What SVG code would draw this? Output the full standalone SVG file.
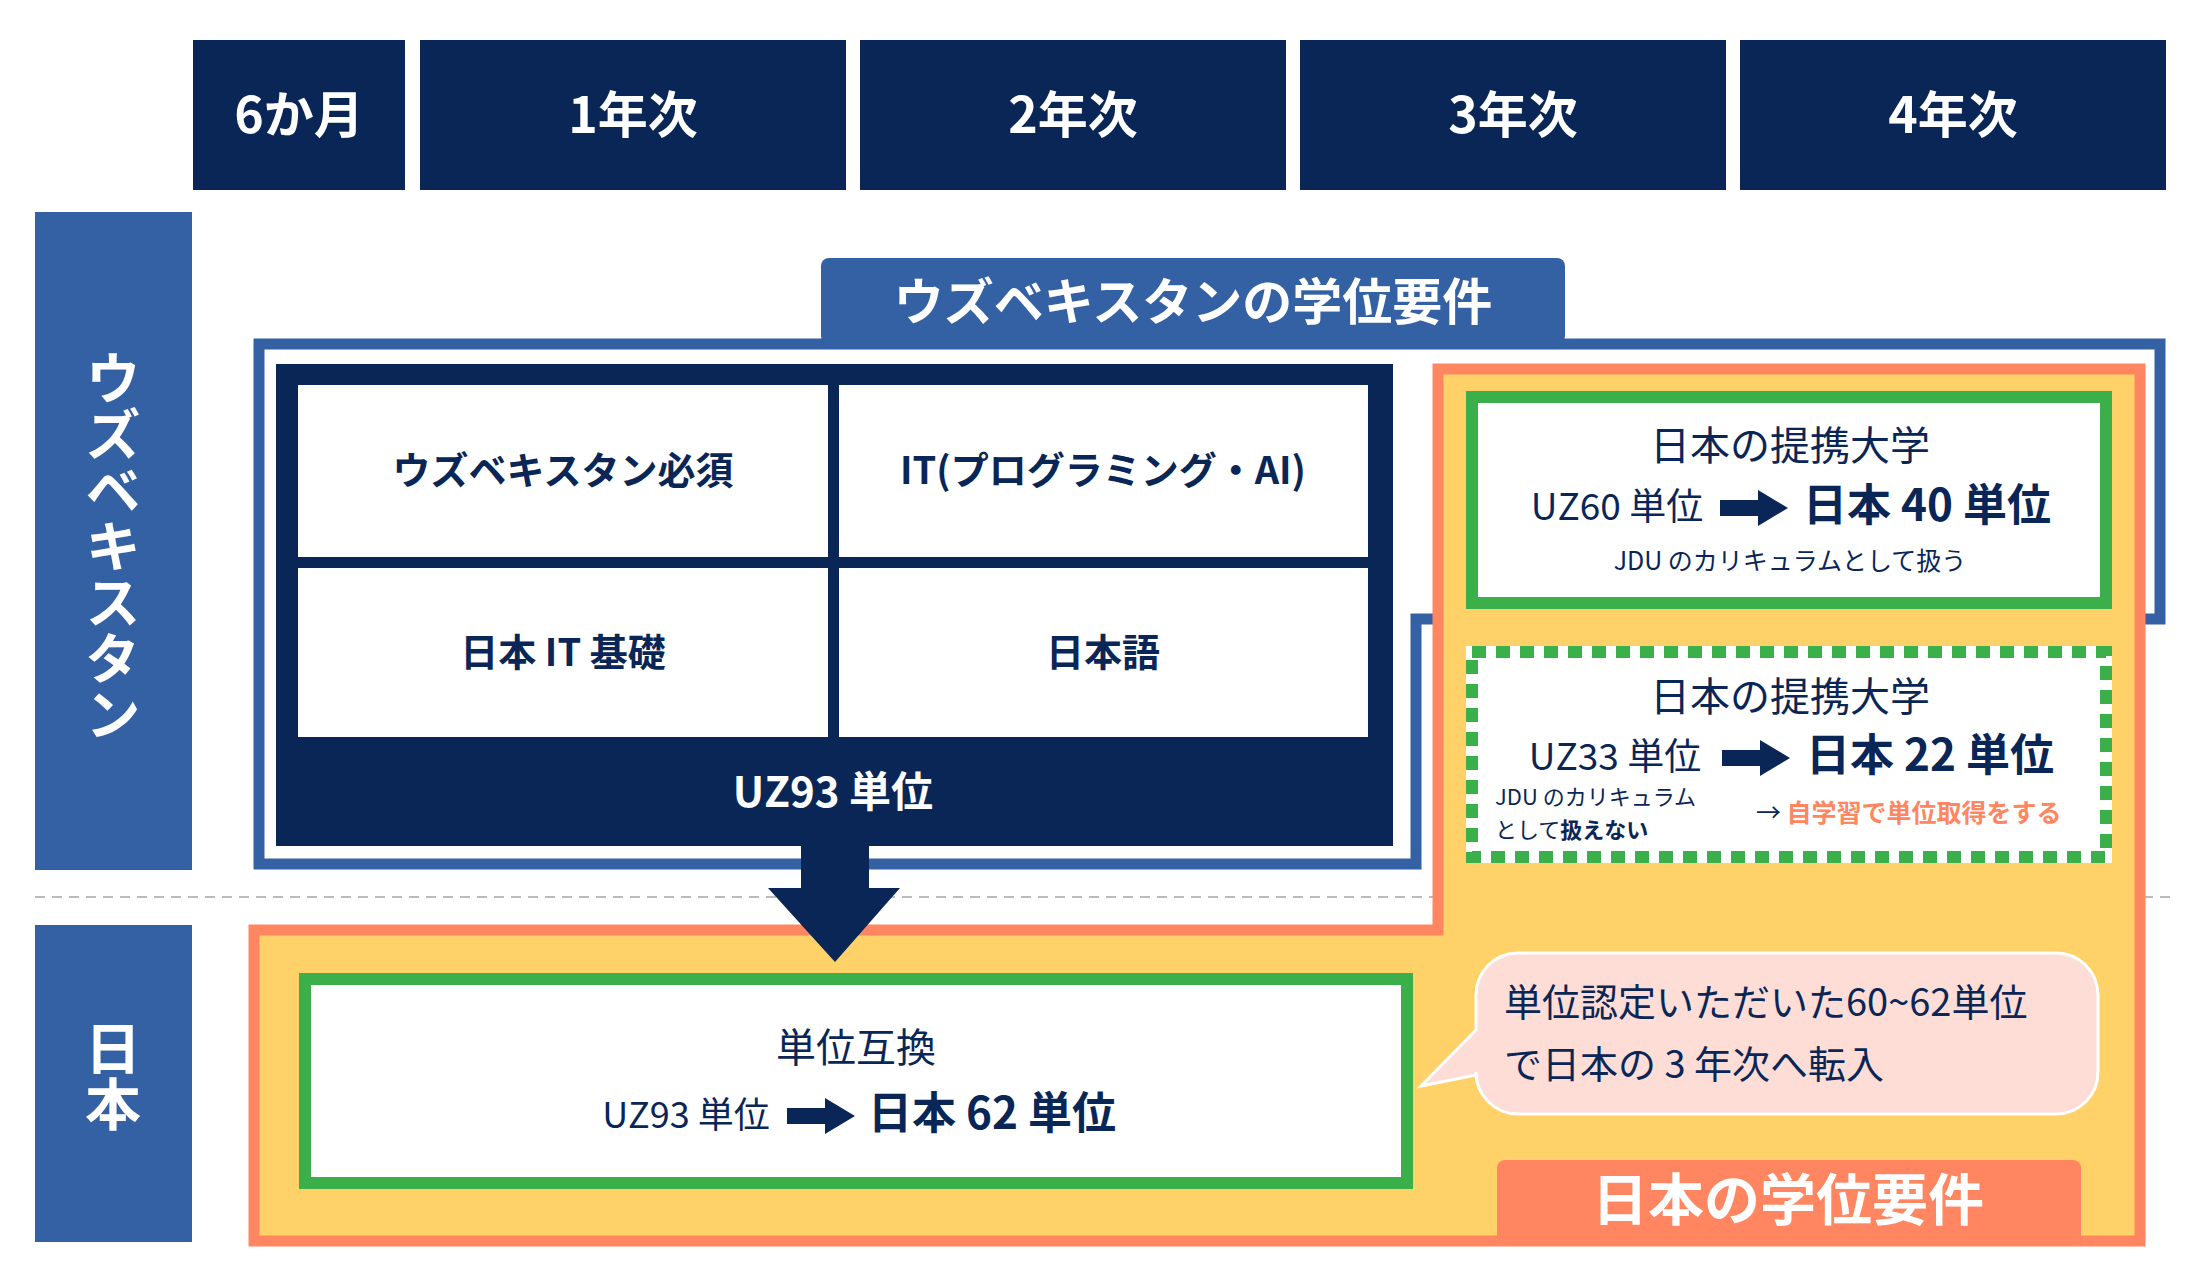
<svg xmlns="http://www.w3.org/2000/svg" width="2199" height="1278" viewBox="0 0 2199 1278">
<style>
text{font-family:"Noto Sans CJK JP","Noto Sans",sans-serif;fill:#0A2656;text-anchor:middle}
.hd{fill:#0A2656}
.hdt{fill:#fff;font-size:50px;font-weight:700}
.side{fill:#3461A3}
.cell{fill:#fff}
.ct{font-size:38px;font-weight:700}
.g{fill:#fff;stroke:#3AAF4A;stroke-width:12}
.t1{font-size:40px}
.r{font-size:37px}
.b{font-size:44px;font-weight:700}
.s{font-size:25px}
.s2{font-size:22px}
</style>
<defs>
<path id="arr" d="M0,-8 H38 V-18 L68,0 L38,18 V8 H0 Z" fill="#0A2656"/>
</defs>
<rect width="2199" height="1278" fill="#fff"/>
<g id="header">
<rect class="hd" x="193" y="40" width="212" height="150"/><text class="hdt" x="299" y="133">6か月</text>
<rect class="hd" x="420" y="40" width="426" height="150"/><text class="hdt" x="633" y="133">1年次</text>
<rect class="hd" x="860" y="40" width="426" height="150"/><text class="hdt" x="1073" y="133">2年次</text>
<rect class="hd" x="1300" y="40" width="426" height="150"/><text class="hdt" x="1513" y="133">3年次</text>
<rect class="hd" x="1740" y="40" width="426" height="150"/><text class="hdt" x="1953" y="133">4年次</text>
</g>
<g id="side-uz"><rect class="side" x="35" y="212" width="157" height="658"/>
<text x="113" y="350" style="fill:#fff;font-size:56px;font-weight:700;writing-mode:vertical-rl;text-anchor:start">ウズベキスタン</text></g>
<g id="side-jp"><rect class="side" x="35" y="925" width="157" height="317"/>
<text x="113" y="1020" style="fill:#fff;font-size:56px;font-weight:700;writing-mode:vertical-rl;text-anchor:start">日本</text></g>
<line x1="35" y1="897" x2="2171" y2="897" stroke="#bbb" stroke-width="2" stroke-dasharray="10,7"/>
<g id="uz-req">
<path d="M259,344 H2160 V619 H1416 V864 H259 Z" fill="none" stroke="#3461A3" stroke-width="11"/>
<rect x="821" y="258" width="744" height="86" rx="8" fill="#3461A3"/>
<text x="1193" y="320" style="fill:#fff;font-size:50px;font-weight:700">ウズベキスタンの学位要件</text>
</g>
<g id="jp-req">
<path d="M254,930 H1438 V369 H2140 V1241 H254 Z" fill="#FED268" stroke="#FF8660" stroke-width="11"/>
<rect x="1497" y="1160" width="584" height="84" rx="8" fill="#FF8660"/>
<text x="1788" y="1220" style="fill:#fff;font-size:56px;font-weight:700">日本の学位要件</text>
</g>
<g id="uz-block">
<rect x="276" y="364" width="1117" height="482" fill="#0A2656"/>
<rect class="cell" x="298" y="385" width="530" height="172"/>
<rect class="cell" x="839" y="385" width="529" height="172"/>
<rect class="cell" x="298" y="568" width="530" height="169"/>
<rect class="cell" x="839" y="568" width="529" height="169"/>
<text class="ct" x="563" y="484">ウズベキスタン必須</text>
<text class="ct" x="1103" y="484">IT(プログラミング・AI)</text>
<text class="ct" x="563" y="666">日本 IT 基礎</text>
<text class="ct" x="1103" y="666">日本語</text>
<text x="833" y="807" style="fill:#fff;font-size:42px;font-weight:700">UZ93 単位</text>
</g>
<g id="connectors">
<path d="M801,846 H869 V888 H900 L835,962 L768,888 H801 Z" fill="#0A2656"/>
</g>
<g id="box1">
<rect class="g" x="1472" y="397" width="634" height="206"/>
<text class="t1" x="1790" y="460">日本の提携大学</text>
<text class="r" x="1617" y="520">UZ60 単位</text>
<use href="#arr" x="1720" y="508"/>
<text class="b" x="1927" y="521">日本 40 単位</text>
<text class="s" x="1790" y="570">JDU のカリキュラムとして扱う</text>
</g>
<g id="box2">
<rect x="1466" y="646" width="646" height="217" fill="#fff"/>
<rect x="1472" y="652" width="634" height="205" fill="none" stroke="#3AAF4A" stroke-width="12" stroke-dasharray="14,10"/>
<text class="t1" x="1790" y="711">日本の提携大学</text>
<text class="r" x="1615" y="770">UZ33 単位</text>
<use href="#arr" x="1722" y="758"/>
<text class="b" x="1930" y="771">日本 22 単位</text>
<text class="s2" x="1495" y="805" style="text-anchor:start">JDU のカリキュラム</text>
<text class="s2" x="1495" y="838" style="text-anchor:start">として<tspan font-weight="700">扱えない</tspan></text>
<text class="s" x="1756" y="822" style="text-anchor:start">→ <tspan font-weight="700" fill="#FF8660">自学習で単位取得をする</tspan></text>
</g>
<g id="box3">
<rect class="g" x="305" y="979" width="1102" height="204"/>
<text class="t1" x="856" y="1062">単位互換</text>
<text x="686" y="1128" style="font-size:36px">UZ93 単位</text>
<use href="#arr" x="787" y="1116"/>
<text class="b" x="992" y="1129">日本 62 単位</text>
</g>
<g id="bubble">
<path d="M1518,953 H2056 A42,42 0 0 1 2098,995 V1072 A42,42 0 0 1 2056,1114 H1518 A42,42 0 0 1 1476,1072 V1075 L1421,1086 L1476,1030 V995 A42,42 0 0 1 1518,953 Z" fill="#FDDDD5" stroke="#fff" stroke-width="3"/>
<text x="1504" y="1016" style="font-size:38px;text-anchor:start">単位認定いただいた60~62単位</text>
<text x="1504" y="1078" style="font-size:38px;text-anchor:start">で日本の 3 年次へ転入</text>
</g>
</svg>
